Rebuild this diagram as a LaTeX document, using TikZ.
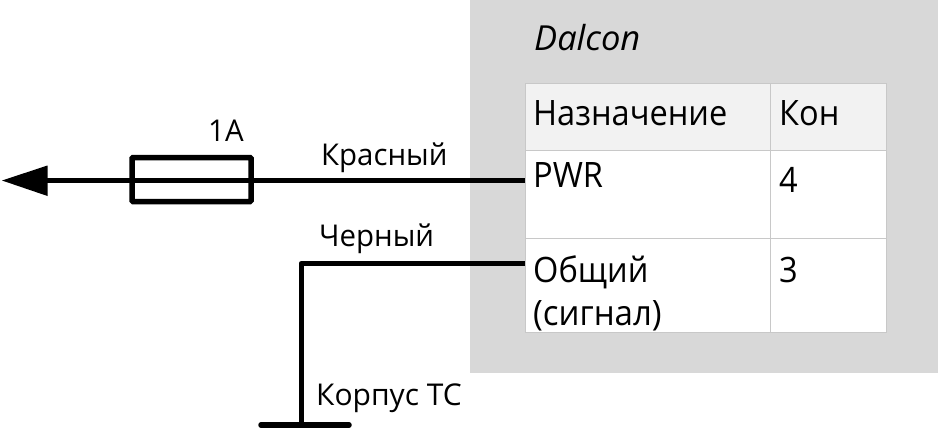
\documentclass[tikz,border=0pt]{standalone}
\usepackage{fontspec}
\setmainfont{Open Sans}
\usetikzlibrary{arrows.meta}
\definecolor{panelgrey}{HTML}{D8D8D8}
\definecolor{headgrey}{HTML}{F2F2F2}
\definecolor{gridgrey}{HTML}{C8C8C8}
\newfontfamily\tabfont[FakeStretch=0.93]{Open Sans}
\newfontfamily\labfont[FakeStretch=0.98]{Open Sans}
\newfontfamily\gndfont[FakeStretch=1.0]{Open Sans}
\tikzset{
  x=1pt,y=-1pt,
  cellbox/.style={draw=gridgrey,line width=1pt,fill=white,anchor=north west,inner sep=0pt,outer sep=0pt},
  headbox/.style={cellbox,fill=headgrey},
  tabtext/.style={anchor=base west,inner sep=0pt,font=\tabfont\fontsize{35}{42}\selectfont},
  wirelab/.style={anchor=base west,inner sep=0pt,font=\labfont\fontsize{30}{36}\selectfont},
  wire/.style={line width=5pt,black},
}
\begin{document}
\begin{tikzpicture}
\useasboundingbox (0,0) rectangle (938,431);
\fill[white] (0,0) rectangle (938,431);
\node[anchor=north west,fill=panelgrey,minimum width=468pt,minimum height=373pt,inner sep=0pt,outer sep=0pt] (panel) at (470,0) {};
\node[headbox,minimum width=245pt,minimum height=67pt] (headA) at (525,83) {};
\node[headbox,minimum width=116pt,minimum height=67pt] (headB) at (770,83) {};
\node[cellbox,minimum width=245pt,minimum height=88pt] (pwrA) at (525,150) {};
\node[cellbox,minimum width=116pt,minimum height=88pt] (pwrB) at (770,150) {};
\node[cellbox,minimum width=245pt,minimum height=94pt] (comA) at (525,238) {};
\node[cellbox,minimum width=116pt,minimum height=94pt] (comB) at (770,238) {};
\node[anchor=base west,inner sep=0pt,font=\itshape\fontsize{34.5}{42}\selectfont] (dalcon) at (534,50) {Dalcon};
\node[tabtext] (tA) at (533,125) {Назначение};
\node[tabtext] (tB) at (779,125) {Кон};
\node[tabtext] (tPwr) at (533,187) {PWR};
\node[tabtext] (t4) at (779,192) {4};
\node[tabtext] (tCom) at (533,282) {Общий};
\node[tabtext,xscale=1.015] (tSig) at (533,325) {(сигнал)};
\node[tabtext] (t3) at (779,282) {3};
\node[wirelab] (lA) at (208,141) {1A};
\node[wirelab] (lRed) at (321,165) {Красный};
\node[wirelab] (lBlk) at (319,246) {Черный};
\node[wirelab,font=\gndfont\fontsize{30}{36}\selectfont] (lGnd) at (316,405) {Корпус ТС};
\coordinate (tip) at (2,180.5);
\coordinate (pwrEnd) at (pwrA.west |- tip);
\coordinate (comEnd) at (525,263.5);
\coordinate (corner) at (301,263.5);
\coordinate (gnd) at (301,425);
\coordinate (gndL) at (261,425);
\coordinate (gndR) at (349,425);
\draw[wire] (pwrEnd) -- (40,180.5);
\fill[black] (tip) -- (47.5,165.5) -- (47.5,196) -- cycle;
\node[draw=black,line width=5.5pt,rounded corners=1pt,minimum width=119pt,minimum height=44pt,inner sep=0pt,outer sep=0pt] (fuse) at (191.5,179.5) {};
\draw[wire,line join=round] (comEnd) -- (corner) -- (gnd);
\draw[line width=5.5pt,line cap=round] (gndL) -- (gndR);
\end{tikzpicture}
\end{document}
